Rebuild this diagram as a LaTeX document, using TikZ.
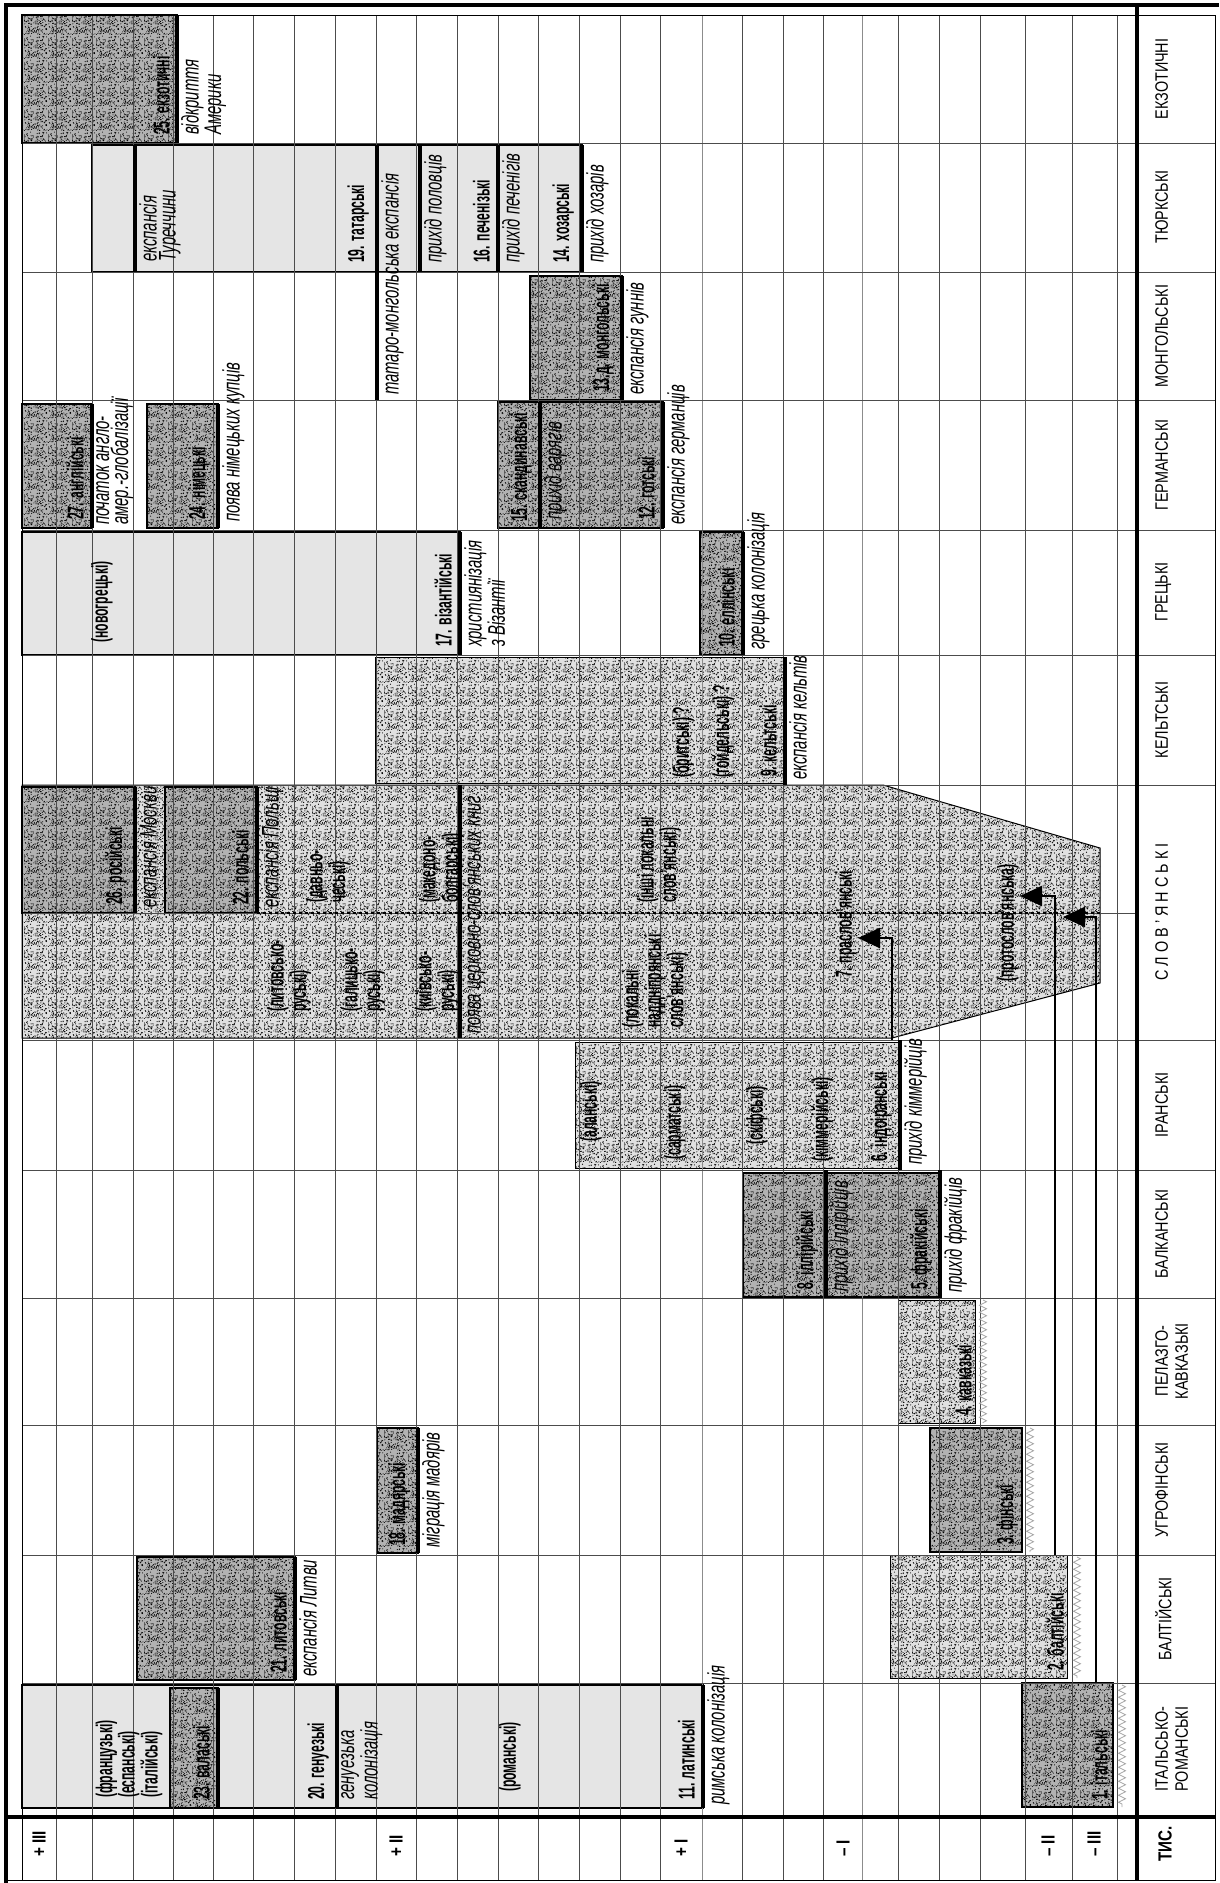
\documentclass[tikz,border=0pt]{standalone}
\usepackage{fontspec}
\setmainfont{Liberation Sans}
\newfontfamily\namefont[FakeStretch=0.53]{Liberation Sans}
\newfontfamily\notefont[FakeStretch=0.62]{Liberation Sans}
\newfontfamily\famfont[FakeStretch=0.8]{Liberation Sans}
\usetikzlibrary{arrows.meta,decorations.pathmorphing,patterns}

\pgfmathsetseed{11}
\pgfdeclarepatternformonly{speckle}{\pgfqpoint{0pt}{0pt}}{\pgfqpoint{24pt}{24pt}}{\pgfqpoint{24pt}{24pt}}{%
  \foreach \i in {1,...,140}{%
    \pgfmathsetmacro\px{24*rnd}\pgfmathsetmacro\py{24*rnd}%
    \pgfpathcircle{\pgfpoint{\px pt}{\py pt}}{0.58pt}\pgfusepath{fill}}}

\begin{document}
\begin{tikzpicture}[x=1pt, y=-1pt,
  gridline/.style={black!70, line width=0.9pt},
  darkbox/.style={draw=black, line width=1.3pt, fill=black!30, postaction={pattern=speckle}},
  midbox/.style={draw=black, line width=1pt, fill=black!12, postaction={pattern=speckle}},
  lightbox/.style={draw=black, line width=1.3pt, fill=black!10},
  startline/.style={line width=4.5pt},
  arrowline/.style={line width=2.6pt, -{Triangle[length=22pt,width=20pt]}},
  zigline/.style={black!35, line width=0.8pt, decorate, decoration={zigzag, segment length=7pt, amplitude=3.5pt}},
  langname/.style={rotate=90, anchor=south west, inner sep=0pt, font=\namefont\bfseries\fontsize{23}{18}\selectfont},
  sublang/.style={rotate=90, anchor=west, inner sep=0pt, align=left, font=\namefont\bfseries\fontsize{23}{18}\selectfont},
  event/.style={rotate=90, anchor=north west, inner sep=0pt, align=left, font=\notefont\itshape\fontsize{24}{19}\selectfont},
  famlabel/.style={rotate=90, anchor=north, inner sep=0pt, align=center, font=\famfont\fontsize{18}{20}\selectfont},
  timelabel/.style={rotate=90, anchor=west, inner sep=0pt, font=\famfont\bfseries\fontsize{19}{20}\selectfont}
]
  \useasboundingbox (0,0) rectangle (1219,1883);

  % large areas
  \draw[midbox] (22,785) -- (883,785) -- (1100,848) -- (1100,983) -- (892,1038) -- (22,1038) -- cycle;
  \draw[midbox] (375,657) rectangle (785,783);
  \draw[midbox] (575,1042) rectangle (900,1168);
  \draw[lightbox] (92,145) rectangle (582,272);
  \draw[lightbox] (22,532) rectangle (460,655);
  \draw[lightbox] (22,1685) rectangle (703,1808);

  % language boxes
  \draw[darkbox] (22,15) rectangle (177,143);
  \draw[darkbox] (530,276) rectangle (622,400);
  \draw[darkbox] (22,404) rectangle (92,528);
  \draw[darkbox] (147,404) rectangle (218,528);
  \draw[darkbox] (498,402) rectangle (540,528);
  \draw[darkbox] (540,402) rectangle (663,528);
  \draw[darkbox] (700,532) rectangle (743,655);
  \draw[darkbox] (22,787) rectangle (135,913);
  \draw[darkbox] (165,787) rectangle (257,913);
  \draw[darkbox] (743,1173) rectangle (940,1297);
  \draw[midbox] (898,1300) rectangle (975,1423);
  \draw[darkbox] (377,1428) rectangle (418,1553);
  \draw[darkbox] (930,1428) rectangle (1022,1552);
  \draw[darkbox] (137,1557) rectangle (295,1680);
  \draw[midbox] (890,1555) rectangle (1067,1678);
  \draw[darkbox] (170,1688) rectangle (218,1808);
  \draw[darkbox] (1022,1683) rectangle (1113,1807);

  % grid
  \foreach \x in {56,92,133,173,213,253,294,335,376,416,457,498,538,579,620,660,742,783,823,898,939,980,1025,1072,1117}
    \draw[gridline] (\x,15) -- (\x,1880);
  \foreach \x in {702,862}
    \draw[gridline, black!45] (\x,15) -- (\x,1880);
  \foreach \y in {143,272,400,530,655,785,913,1040,1170,1298,1425,1555,1683}
    \draw[gridline] (22,\y) -- (1137,\y);
  \foreach \y in {143,272,400,530,655,785,1040,1170,1298,1425,1555,1683}
    \draw[gridline] (1137,\y) -- (1215,\y);
  \draw[line width=1.6pt, dashed] (257,913) -- (1100,913);

  % frame
  \draw[line width=4pt] (6,1883) -- (6,5) -- (1219,5);
  \draw[line width=1pt] (22,1880) -- (22,15) -- (1215,15) -- (1215,1880) -- (6,1880);
  \draw[line width=4pt] (1137,5) -- (1137,1880);
  \draw[line width=4pt] (6,1817) -- (1215,1817);

  % start lines
  \foreach \x/\ya/\yb in {177/15/143, 135/145/272, 377/145/400, 420/145/272, 498/145/272, 582/145/272,
      622/276/400, 92/404/528, 218/404/528, 540/402/528, 663/402/528, 460/532/655, 743/532/655,
      785/657/785, 135/787/913, 257/787/913, 460/785/1038, 900/1040/1170, 826/1170/1298, 940/1170/1298,
      418/1428/1553, 295/1557/1680, 218/1688/1808, 337/1685/1808, 703/1685/1808}
    \draw[startline] (\x,\ya) -- (\x,\yb);

  % uncertain beginnings
  \draw[zigline] (983,1300) -- (983,1423);
  \draw[zigline] (1030,1428) -- (1030,1552);
  \draw[zigline] (1077,1557) -- (1077,1678);
  \draw[zigline] (1122,1685) -- (1122,1807);

  % exotic
  \node[langname] (n25) at (170,135) {25. екзотичні};
  \node[event] (e25) at (181,135) {відкриття\\Америки};
  % turkic
  \node[event] (etur) at (139,262) {експансія\\Туреччини};
  \node[langname] (n19) at (369,263) {19. татарські};
  \node[event] (e19) at (381,395) {татаро-монгольська експансія};
  \node[event] (epol) at (424,263) {прихід половців};
  \node[langname] (n16) at (490,263) {16. печенізькі};
  \node[event] (e16) at (502,263) {прихід печенігів};
  \node[langname] (n14) at (574,263) {14. хозарські};
  \node[event] (e14) at (586,263) {прихід хозарів};
  % mongolic
  \node[langname] (n13) at (614,392) {13.д. монгольські};
  \node[event] (e13) at (626,395) {експансія гуннів};
  % germanic
  \node[langname] (n27) at (84,520) {27. англійські};
  \node[event] (e27) at (96,525) {початок англо-\\амер.-глобалізації};
  \node[langname] (n24) at (210,520) {24. німецькі};
  \node[event] (e24) at (222,522) {поява німецьких купців};
  \node[langname] (n15) at (532,522) {15. скандинавські};
  \node[event] (e15) at (544,520) {прихід варягів};
  \node[langname] (n12) at (655,520) {12. готські};
  \node[event] (e12) at (667,525) {експансія германців};
  % greek
  \node[sublang] (sngr) at (102,643) {(новогрецькі)};
  \node[langname] (n17) at (452,647) {17. візантійські};
  \node[event] (e17) at (464,647) {християнізація\\з Візантії};
  \node[langname] (n10) at (735,647) {10. еллінські};
  \node[event] (e10) at (747,650) {грецька колонізація};
  % celtic
  \node[sublang] (sbrit) at (683,778) {(бритські) ?};
  \node[sublang] (sgoid) at (723,778) {(гойдельські) ?};
  \node[langname] (n9) at (777,777) {9. кельтські};
  \node[event] (e9) at (789,780) {експансія кельтів};
  % slavic
  \node[langname] (n26) at (127,905) {26. російські};
  \node[event] (e26) at (139,908) {експансія Москви};
  \node[langname] (n22) at (249,905) {22. польські};
  \node[event] (e22) at (261,908) {експансія Польщі};
  \node[sublang] (scz) at (328,903) {(давньо-\\чеські)};
  \node[sublang] (smk) at (441,903) {(македоно-\\болгарські)};
  \node[event] (ecsl) at (464,1034) {поява церковно-слов’янських книг};
  \node[sublang] (sls) at (659,903) {(інші локальні\\слов’янські)};
  \node[sublang] (slr) at (289,1012) {(литовсько-\\руські)};
  \node[sublang] (sgr) at (363,1012) {(галицько-\\руські)};
  \node[sublang] (skr) at (437,1012) {(київсько-\\руські)};
  \node[sublang] (sld) at (655,1028) {(локальні\\наддніпрянські\\слов’янські)};
  \node[langname, anchor=west] (n7) at (846,978) {7. праслов’янські};
  \node[sublang] (sps) at (1008,982) {(протослов’янська)};
  % iranian
  \node[sublang] (sal) at (591,1142) {(аланські)};
  \node[sublang] (ssa) at (675,1160) {(сарматські)};
  \node[sublang] (ssk) at (757,1145) {(скіфські)};
  \node[sublang] (ski) at (822,1162) {(кіммерійські)};
  \node[langname] (n6) at (892,1162) {6. індоіранські};
  \node[event] (e6) at (904,1165) {прихід кіммерійців};
  % balkan
  \node[langname] (n8) at (818,1290) {8. іллірійські};
  \node[event] (e8) at (830,1292) {прихід іллірійців};
  \node[langname] (n5) at (932,1290) {5. фракійські};
  \node[event] (e5) at (944,1293) {прихід фракійців};
  % pelasgo-caucasian
  \node[langname] (n4) at (972,1416) {4. кавказькі};
  % finno-ugric
  \node[langname] (n18) at (410,1546) {18. мадярські};
  \node[event] (e18) at (422,1548) {міграція мадярів};
  \node[langname] (n3) at (1018,1545) {3. фінські};
  % baltic
  \node[langname] (n21) at (287,1673) {21. литовські};
  \node[event] (e21) at (299,1677) {експансія Литви};
  \node[langname] (n2) at (1064,1671) {2. балтійські};
  % italic-romance
  \node[sublang] (srom3) at (129,1798) {(французькі)\\(еспанські)\\(італійські)};
  \node[langname] (n23) at (210,1800) {23. валаські};
  \node[langname] (n20) at (329,1800) {20. генуезькі};
  \node[event] (e20) at (341,1800) {генуезька\\колонізація};
  \node[sublang] (srom) at (510,1792) {(романські)};
  \node[langname] (n11) at (695,1800) {11. латинські};
  \node[event] (e11) at (707,1805) {римська колонізація};
  \node[langname] (n1) at (1108,1800) {1. італьські};

  % influences on proto-slavic
  \coordinate (a6) at (892,1040);  \coordinate (t6) at (858,938);
  \coordinate (a2) at (1055,1555); \coordinate (t2) at (1020,896);
  \coordinate (a1) at (1096,1683); \coordinate (t1) at (1063,917);
  \draw[arrowline] (a6) |- (t6);
  \draw[arrowline] (a2) |- (t2);
  \draw[arrowline] (a1) |- (t1);

  % families
  \node[famlabel] (fex) at (1155,79) {ЕКЗОТИЧНІ};
  \node[famlabel] (ftu) at (1155,207) {ТЮРКСЬКІ};
  \node[famlabel] (fmo) at (1155,336) {МОНГОЛЬСЬКІ};
  \node[famlabel] (fge) at (1155,465) {ГЕРМАНСЬКІ};
  \node[famlabel] (fgr) at (1155,592) {ГРЕЦЬКІ};
  \node[famlabel] (fke) at (1155,720) {КЕЛЬТСЬКІ};
  \node[famlabel] (fsl) at (1155,912) {С Л О В ’ Я Н С Ь К І};
  \node[famlabel] (fir) at (1155,1105) {ІРАНСЬКІ};
  \node[famlabel] (fba) at (1155,1234) {БАЛКАНСЬКІ};
  \node[famlabel] (fpk) at (1155,1361) {ПЕЛАЗГО-\\КАВКАЗЬКІ};
  \node[famlabel] (fug) at (1155,1490) {УГРОФІНСЬКІ};
  \node[famlabel] (fbt) at (1155,1619) {БАЛТІЙСЬКІ};
  \node[famlabel] (fit) at (1155,1749) {ІТАЛЬСЬКО-\\РОМАНСЬКІ};

  % millennia
  \node[timelabel] (tp3) at (39,1857) {+ III};
  \node[timelabel] (tp2) at (396,1857) {+ II};
  \node[timelabel] (tp1) at (681,1857) {+ I};
  \node[timelabel] (tm1) at (843,1857) {– I};
  \node[timelabel] (tm2) at (1048,1857) {– II};
  \node[timelabel] (tm3) at (1094,1857) {– III};
  \node[timelabel] (tys) at (1165,1862) {ТИС.};
\end{tikzpicture}
\end{document}
